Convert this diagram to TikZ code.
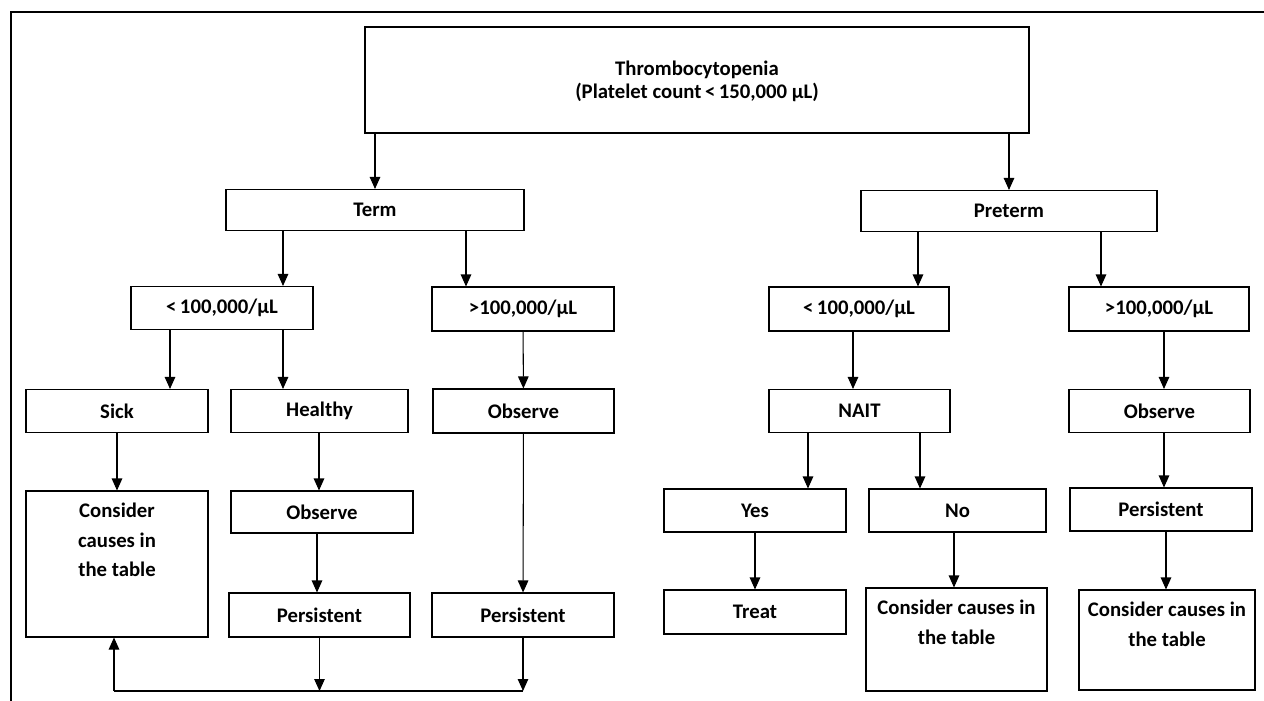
\documentclass[tikz,border=0pt]{standalone}
\usepackage{fontspec}
\setmainfont{Carlito}
\usetikzlibrary{arrows.meta}

\begin{document}
\begin{tikzpicture}[x=0.2mm,y=-0.2mm,font=\fontsize{11.8}{17}\selectfont\bfseries,
  box/.style 2 args={rectangle,draw,line width=0.6pt,inner sep=0pt,minimum width=#1*0.2mm,minimum height=#2*0.2mm},
  arr/.style={-{Triangle[length=2.4mm,width=2.1mm]},line width=0.6pt},
  lbl/.style={anchor=north,align=center,yshift=-1.2mm}]
\useasboundingbox (0,0) rectangle (1264,701);
\draw[line width=0.45mm] (11,701) -- (11,12) -- (1264,12);

\node[box={664}{106},align=center,font=\fontsize{11.8}{13}\selectfont\bfseries] (top) at (697,80)
	{\rule{0pt}{3.6mm}Thrombocytopenia\\(Platelet count\,<\,150,000 µL)};
\node[box={298}{41}] (term) at (375,210) {Term};
\node[box={296}{41}] (pre) at (1009,211) {Preterm};

\node[box={182}{43}] (tlo) at (222,308) {<\,100,000/µL};
\node[box={182}{44}] (thi) at (523,309) {>100,000/µL};
\node[box={180}{44}] (plo) at (859,309) {<\,100,000/µL};
\node[box={180}{44}] (phi) at (1159,309) {>100,000/µL};

\node[box={182}{43}] (sick) at (117,411) {Sick};
\node[box={177}{43}] (healthy) at (319.5,411) {Healthy};
\node[box={181}{44}] (tobs) at (523.5,411) {Observe};
\node[box={181}{43}] (nait) at (859.5,411) {NAIT};
\node[box={181}{43}] (pobs) at (1159.5,411) {Observe};

\node[box={182}{146},label={[lbl]north:Consider\\causes in\\the table}] (cons1) at (117,564) {};
\node[box={182}{42}] (hobs) at (322,512) {Observe};
\node[box={181}{44}] (pers1) at (319.5,615) {Persistent};
\node[box={182}{44}] (pers2) at (523,615) {Persistent};

\node[box={182}{43}] (yes) at (755,510.5) {Yes};
\node[box={177}{43}] (no) at (957.5,510.5) {No};
\node[box={182}{43}] (ppers) at (1161,509.5) {Persistent};
\node[box={182}{44}] (treat) at (755,612) {Treat};
\node[box={181}{103},label={[lbl]north:Consider causes in\\the table}] (cons2) at (956.5,639.5) {};
\node[box={176}{100},label={[lbl]north:Consider causes in\\the table}] (cons3) at (1167,640) {};

% arrows
\draw[arr] (top.south -| term) -- (term);
\draw[arr] (top.south -| pre) -- (pre);
\draw[arr] (term.south -| 283,0) -- (tlo.north -| 283,0);
\draw[arr] (term.south -| 466,0) -- (thi.north -| 466,0);
\draw[arr] (pre.south -| 918,0) -- (plo.north -| 918,0);
\draw[arr] (pre.south -| 1101,0) -- (phi.north -| 1101,0);

\draw[arr] (tlo.south -| 170,0) -- (sick.north -| 170,0);
\draw[arr] (tlo.south -| 283,0) -- (healthy.north -| 283,0);
\draw[arr] (thi) -- (tobs);
\draw[arr] (plo.south -| 853,0) -- (nait.north -| 853,0);
\draw[arr] (phi.south -| 1164,0) -- (pobs.north -| 1164,0);

\draw[arr] (sick) -- (cons1);
\draw[arr] (healthy.south -| 319,0) -- (hobs.north -| 319,0);
\draw[arr] (hobs.south -| 317,0) -- (pers1.north -| 317,0);
\draw[arr] (tobs) -- (pers2);
\draw[arr] (nait.south -| 808,0) -- (yes.north -| 808,0);
\draw[arr] (nait.south -| 920,0) -- (no.north -| 920,0);
\draw[arr] (pobs.south -| 1164,0) -- (ppers.north -| 1164,0);
\draw[arr] (yes) -- (treat);
\draw[arr] (no.south -| 954,0) -- (cons2.north -| 954,0);
\draw[arr] (ppers.south -| 1166,0) -- (cons3.north -| 1166,0);

% back to the left box
\coordinate (jl) at (114,691);
\draw[line width=0.6pt] (jl) -- (pers2 |- jl);
\draw[arr] (pers1) -- (pers1 |- jl);
\draw[arr] (pers2) -- (pers2 |- jl);
\draw[arr] (jl) -- (jl |- cons1.south);
\end{tikzpicture}
\end{document}
